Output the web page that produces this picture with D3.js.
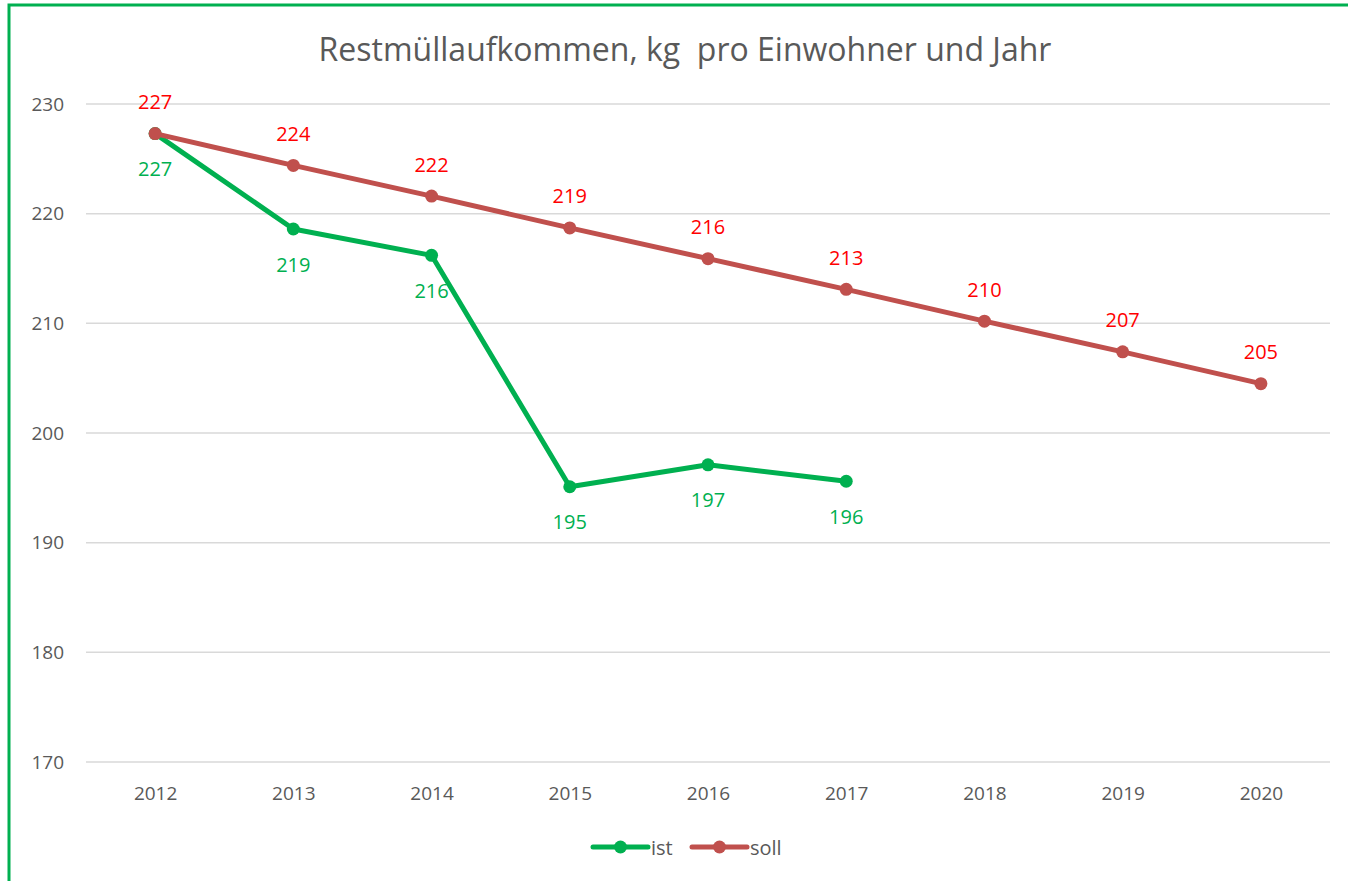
<!DOCTYPE html>
<html lang="de">
<head>
<meta charset="UTF-8">
<title>Restmüllaufkommen</title>
<script src="https://d3js.org/d3.v7.min.js"></script>
<style>
  body { margin: 0; background: #fff; }
  svg { display: block; font-family: "Open Sans", "Liberation Sans", sans-serif; }
  svg text { font-family: "Open Sans", "Liberation Sans", sans-serif; }
</style>
</head>
<body>
<div id="chart"></div>
<script>
// data
const years = ["2012", "2013", "2014", "2015", "2016", "2017", "2018", "2019", "2020"];
const ist = [227.3, 218.6, 216.2, 195.1, 197.1, 195.6];
const soll = [227.3, 224.4, 221.6, 218.7, 215.9, 213.1, 210.2, 207.4, 204.5];
const yTicks = [170, 180, 190, 200, 210, 220, 230];

const W = 1348, H = 881;
const plot = { left: 86, right: 1330, top: 104, bottom: 762 };

const svg = d3.select("#chart").append("svg")
    .attr("width", W).attr("height", H);

// chart frame (only left/top visible in the crop)
svg.append("rect")
    .attr("x", 9).attr("y", 5)
    .attr("width", W + 20).attr("height", H + 20)
    .attr("fill", "none").attr("stroke", "#00b050").attr("stroke-width", 3);

const x = d3.scalePoint().domain(years).range([plot.left, plot.right]).padding(0.5);
const y = d3.scaleLinear().domain([170, 230]).range([plot.bottom, plot.top]);

// gridlines
svg.append("g").selectAll("line").data(yTicks).join("line")
    .attr("x1", plot.left).attr("x2", plot.right)
    .attr("y1", d => y(d)).attr("y2", d => y(d))
    .attr("stroke", "#d9d9d9").attr("stroke-width", 1.5);

// y axis labels
const yAxis = svg.append("g")
    .attr("transform", `translate(${plot.left - 22},0)`)
    .call(d3.axisLeft(y).tickValues(yTicks).tickSize(0).tickPadding(0));
yAxis.attr("font-family", null).attr("font-size", null);
yAxis.select(".domain").remove();
yAxis.selectAll("text").attr("font-size", 19).attr("fill", "#595959");

// x axis labels
const xAxis = svg.append("g")
    .attr("transform", `translate(0,${plot.bottom + 31})`)
    .call(d3.axisBottom(x).tickSize(0).tickPadding(0));
xAxis.attr("font-family", null).attr("font-size", null);
xAxis.select(".domain").remove();
xAxis.selectAll("text").attr("font-size", 19).attr("fill", "#595959")
    .attr("dy", null).attr("dominant-baseline", "central");

// title
svg.append("text")
    .attr("x", 685).attr("y", 61)
    .attr("text-anchor", "middle")
    .attr("font-size", 32).attr("fill", "#595959")
    .attr("xml:space", "preserve")
    .text("Restmüllaufkommen, kg  pro Einwohner und Jahr");

const line = d3.line().x((d, i) => x(years[i])).y(d => y(d));

function series(values, color, labelColor, dy) {
  const g = svg.append("g");
  g.append("path").datum(values)
      .attr("d", line)
      .attr("fill", "none").attr("stroke", color)
      .attr("stroke-width", 5).attr("stroke-linejoin", "round").attr("stroke-linecap", "round");
  g.selectAll("circle").data(values).join("circle")
      .attr("cx", (d, i) => x(years[i])).attr("cy", d => y(d))
      .attr("r", 6.5).attr("fill", color);
  g.selectAll("text").data(values).join("text")
      .attr("x", (d, i) => x(years[i])).attr("y", d => y(d) + dy)
      .attr("text-anchor", "middle").attr("dominant-baseline", "central")
      .attr("font-size", 20).attr("fill", labelColor)
      .text(d => Math.round(d));
}

series(ist, "#00b050", "#00b050", 35);
series(soll, "#c0504d", "#ff0000", -32);

// legend
const legend = [
  { name: "ist", color: "#00b050", x: 593 },
  { name: "soll", color: "#c0504d", x: 692 }
];
const lg = svg.append("g").attr("transform", "translate(0,847)");
legend.forEach(d => {
  lg.append("line").attr("x1", d.x).attr("x2", d.x + 55)
      .attr("y1", 0).attr("y2", 0)
      .attr("stroke", d.color).attr("stroke-width", 5).attr("stroke-linecap", "round");
  lg.append("circle").attr("cx", d.x + 27.5).attr("cy", 0).attr("r", 6.5).attr("fill", d.color);
  lg.append("text").attr("x", d.x + 58).attr("y", 0)
      .attr("dominant-baseline", "central")
      .attr("font-size", 20).attr("fill", "#595959").text(d.name);
});
</script>
</body>
</html>
